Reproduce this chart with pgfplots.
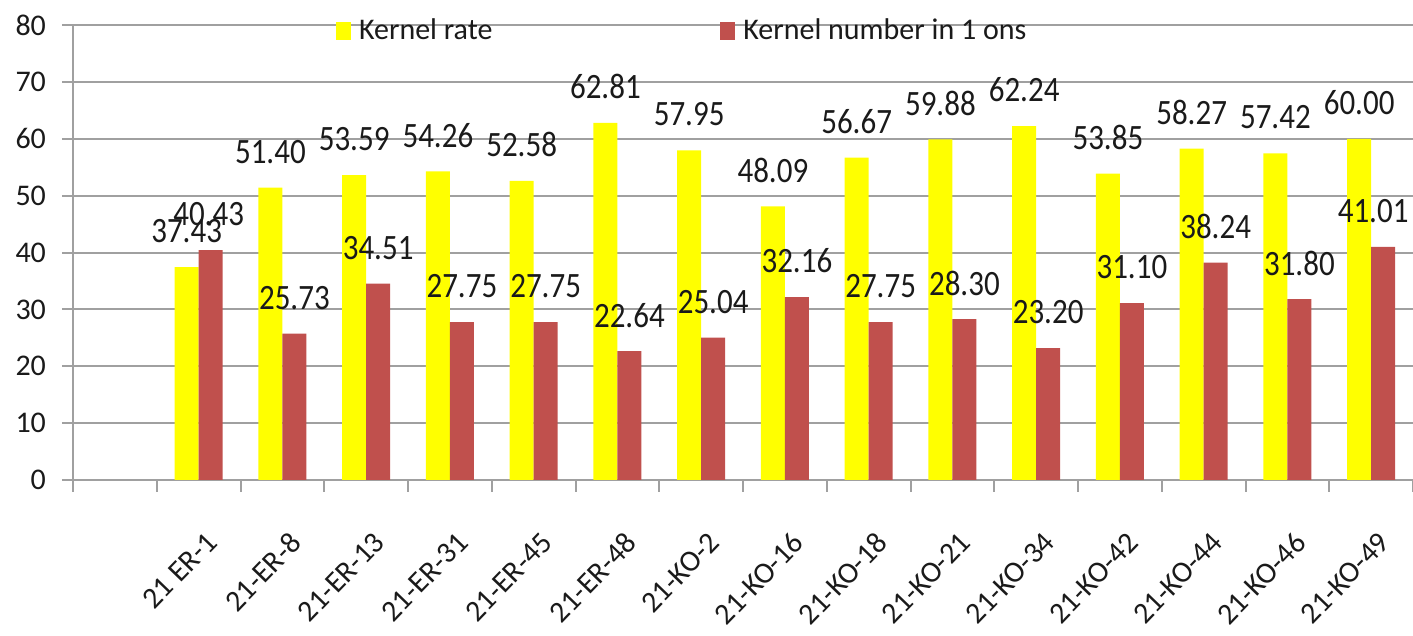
\documentclass[border=0pt]{standalone}
\usepackage{pgfplots}
\usepackage{pgfplotstable}
\pgfplotsset{compat=1.18}
\usepackage{fontspec}
\setmainfont{Carlito}
\definecolor{barred}{HTML}{C0504D}
\definecolor{baryel}{HTML}{FFFF00}
\definecolor{gridc}{HTML}{A0A0A0}
\definecolor{txt}{HTML}{1A1A1A}

\pgfplotstableread{
x rate num nx
1 37.43 40.43 -1
2 51.40 25.73 0
3 53.59 34.51 0
4 54.26 27.75 0
5 52.58 27.75 0
6 62.81 22.64 0
7 57.95 25.04 0
8 48.09 32.16 0
9 56.67 27.75 0
10 59.88 28.30 0
11 62.24 23.20 0
12 53.85 31.10 0
13 58.27 38.24 0
14 57.42 31.80 0
15 60.00 41.01 -5
}\data

\begin{document}
\begin{tikzpicture}
\useasboundingbox (-36.5pt,-78pt) rectangle (670pt,240pt);
\begin{axis}[
  at={(0,0)}, anchor=south west,
  scale only axis, width=670pt, height=227.5pt,
  ybar=0pt, bar width=12pt,
  xmin=-0.5, xmax=15.5, ymin=0, ymax=80,
  xtick={1,...,15},
  xticklabels={21 ER-1,21-ER-8,21-ER-13,21-ER-31,21-ER-45,21-ER-48,21-KO-2,21-KO-16,21-KO-18,21-KO-21,21-KO-34,21-KO-42,21-KO-44,21-KO-46,21-KO-49},
  minor xtick={-0.5,0.5,...,15.5},
  ytick={0,10,...,80},
  axis x line*=bottom, axis y line*=left,
  axis line style={gridc, line width=1pt},
  ymajorgrids, major grid style={gridc, line width=1pt},
  tick align=outside, major tick length=5.5pt, minor tick length=6pt,
  tick style={gridc, line width=1pt},
  major x tick style={draw=none},
  /pgf/number format/assume math mode=true,
  tick label style={font=\fontsize{15}{18}\selectfont, text=txt},
  yticklabel style={xshift=-4.5pt},
  xticklabel style={font=\fontsize{15}{18}\selectfont, inner sep=0pt, xshift=3pt, yshift=-19.5pt, rotate=46, anchor=north east},
  nodes near coords={\pgfmathprintnumber[fixed,zerofill,precision=2]{\pgfplotspointmeta}},
  every node near coord/.append style={font=\fontsize{15.5}{19}\selectfont, text=txt, anchor=center, yshift=18pt, inner sep=0pt, yscale=1.15},
  legend columns=2,
  legend style={at={(0.196,0.987)}, anchor=west, draw=none, fill=none, inner sep=0pt,
    font=\fontsize{15}{18}\selectfont, text=txt,
    /tikz/every odd column/.append style={column sep=2pt},
    /tikz/every even column/.append style={column sep=112pt}},
  clip=false,
]
\addplot[fill=baryel, draw=none, legend image code/.code={\fill[baryel] (0pt,-4.5pt) rectangle (7.5pt,4.5pt);}] table[x=x, y=rate] {\data};
\addlegendentry{Kernel rate}
\addplot[fill=barred, draw=none,
  visualization depends on={\thisrow{nx} \as \nx},
  every node near coord/.append style={xshift=\nx pt},
  legend image code/.code={\fill[barred] (0pt,-4.5pt) rectangle (7.5pt,4.5pt);}] table[x=x, y=num] {\data};
\addlegendentry{Kernel number in 1 ons}
\end{axis}
\end{tikzpicture}
\end{document}
